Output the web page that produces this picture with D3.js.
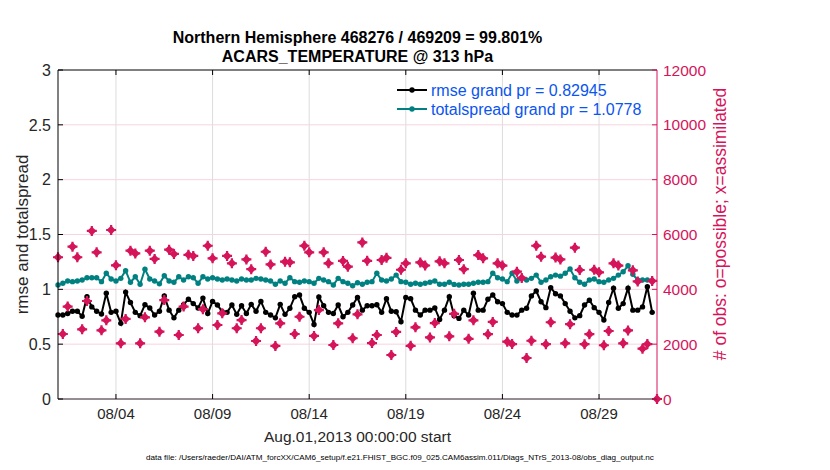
<!DOCTYPE html>
<html><head><meta charset="utf-8">
<script src="https://cdn.jsdelivr.net/npm/d3@7"></script>
<style>body{margin:0;background:#fff;} text{font-family:"Liberation Sans",Arial,Helvetica,sans-serif;}</style>
</head><body><svg id="c" width="830" height="470"></svg>
<script>
// time step index i -> Aug 1 00Z + i*6h
const rmse = [0.766,0.766,0.78,0.80,0.80,0.755,0.933,0.84,0.80,0.775,0.965,0.79,0.80,0.69,0.975,0.88,0.79,0.76,0.86,0.83,
0.766,0.80,0.94,0.81,0.74,0.81,0.86,0.91,0.87,0.83,0.92,0.78,0.89,0.857,0.796,0.79,0.857,0.772,0.85,0.78,
0.863,0.80,0.89,0.79,0.766,0.74,0.863,0.772,0.827,0.933,0.948,0.827,0.79,0.68,0.93,0.85,0.79,0.78,0.857,0.75,
0.79,0.857,0.925,0.81,0.85,0.85,0.86,0.79,0.915,0.80,0.796,0.705,0.925,0.915,0.81,0.766,0.81,0.81,0.83,0.725,
0.81,0.933,0.76,0.735,0.81,0.766,0.964,0.81,0.81,0.91,0.948,0.887,0.87,0.79,0.766,0.765,0.81,0.827,0.94,0.985,
0.887,0.833,1.015,0.96,0.94,0.87,0.80,0.74,0.76,0.857,0.90,0.833,0.79,0.72,0.88,1.01,0.827,0.87,1.01,0.81,
0.81,0.84,1.024,0.79];
const totalspread = [1.04,1.055,1.076,1.07,1.076,1.085,1.106,1.106,1.106,1.07,1.146,1.094,1.076,1.10,1.17,1.064,1.115,1.046,1.183,1.094,
1.076,1.05,1.124,1.076,1.064,1.115,1.085,1.115,1.106,1.055,1.115,1.094,1.106,1.094,1.085,1.094,1.085,1.076,1.094,1.085,
1.085,1.10,1.094,1.085,1.076,1.046,1.076,1.055,1.106,1.07,1.064,1.076,1.07,1.055,1.10,1.085,1.07,1.04,1.10,1.07,
1.055,1.033,1.06,1.046,1.064,1.07,1.146,1.085,1.076,1.094,1.13,1.07,1.064,1.046,1.055,1.046,1.055,1.064,1.076,1.046,
1.046,1.064,1.045,1.04,1.046,1.046,1.055,1.064,1.064,1.07,1.146,1.106,1.094,1.07,1.146,1.076,1.10,1.085,1.10,1.13,
1.064,1.085,1.115,1.13,1.12,1.146,1.185,1.106,1.064,1.046,1.085,1.094,1.07,1.064,1.085,1.10,1.13,1.16,1.215,1.137,
1.085,1.085,1.085,1.076];
const nObs = [5170,2370,3370,5555,5170,2540,3575,6130,5350,2505,2870,6165,4875,2030,2920,5410,5310,2030,2980,5410,
5110,2455,3610,5445,5290,2335,3370,5260,5220,2580,3275,5590,5130,2700,3125,5220,4950,2580,2880,5090,
4735,2115,2580,5370,4910,1935,2760,5010,4985,2370,3000,5590,5350,2300,3245,5350,4950,1970,2760,5035,
4825,2215,3090,5710,5040,2040,2335,5070,5150,1605,2445,4715,4950,1940,2615,4980,4870,2245,2770,5020,
4950,2285,3105,5070,4735,2195,2870,5250,5130,2365,2810,4950,4865,2090,2005,4645,4415,1495,2125,5590,
5190,2000,2800,5160,5090,2030,2730,5520,4705,2000,2365,4715,4620,1960,2480,4950,4865,2030,2500,4695,
4290,1835,2005,4305,0];
const xTickDays = [3,8,13,18,23,28];
const xTickLabels = ["08/04","08/09","08/14","08/19","08/24","08/29"];
const leftTicks = [0,0.5,1,1.5,2,2.5,3];
const leftTickLabels = ["0","0.5","1","1.5","2","2.5","3"];
const rightTicks = [0,2000,4000,6000,8000,10000,12000];
const titleLines = ["Northern Hemisphere 468276 / 469209 = 99.801%","ACARS_TEMPERATURE @ 313 hPa"];
const legendLabels = ["rmse grand pr = 0.82945","totalspread grand pr = 1.0778"];

const svg = d3.select("#c");
const X0=58, X1=657, Y0=70, Y1=399;
const x = d3.scaleLinear().domain([0,31]).range([X0,X1]);
const y = d3.scaleLinear().domain([0,3]).range([Y1,Y0]);
const y2 = d3.scaleLinear().domain([0,12000]).range([Y1,Y0]);
const PINK = "#d6145a", TEAL = "#008080", GRAY="#262626";

// grid
svg.append("g").selectAll("line").data(xTickDays).join("line")
  .attr("x1",d=>x(d)).attr("x2",d=>x(d)).attr("y1",Y0).attr("y2",Y1)
  .attr("stroke","#dcdcdc").attr("stroke-width",1);
svg.append("g").selectAll("line").data(rightTicks.slice(1,-1)).join("line")
  .attr("x1",X0).attr("x2",X1).attr("y1",d=>y2(d)).attr("y2",d=>y2(d))
  .attr("stroke","#f6d3df").attr("stroke-width",1);

// lines
const t = i => i*0.25;
const lineGen = d3.line().x((d,i)=>x(t(i))).y(d=>y(d));
svg.append("path").datum(totalspread).attr("d",lineGen).attr("fill","none").attr("stroke",TEAL).attr("stroke-width",2);
svg.append("g").selectAll("circle").data(totalspread).join("circle")
  .attr("cx",(d,i)=>x(t(i))).attr("cy",d=>y(d)).attr("r",2.7).attr("fill",TEAL);
svg.append("path").datum(rmse).attr("d",lineGen).attr("fill","none").attr("stroke","#000").attr("stroke-width",2);
svg.append("g").selectAll("circle").data(rmse).join("circle")
  .attr("cx",(d,i)=>x(t(i))).attr("cy",d=>y(d)).attr("r",2.7).attr("fill","#000");

// obs markers (o = possible, x = assimilated)
const obsG = svg.append("g");
nObs.forEach((d,i)=>{
  const cx = x(t(i)), cy = y2(d);
  obsG.append("path").attr("d",`M${cx-4.5},${cy}L${cx},${cy-4.5}L${cx+4.5},${cy}L${cx},${cy+4.5}Z`).attr("fill",PINK);
  obsG.append("path").attr("d",`M${cx-5},${cy}H${cx+5}M${cx},${cy-5}V${cy+5}`).attr("stroke",PINK).attr("stroke-width",2.2);
});

// frame & axes
svg.append("line").attr("x1",X0).attr("x2",X1).attr("y1",Y0).attr("y2",Y0).attr("stroke","#000");
svg.append("line").attr("x1",X0).attr("x2",X1).attr("y1",Y1).attr("y2",Y1).attr("stroke","#2b1a22");
svg.append("line").attr("x1",X0).attr("x2",X0).attr("y1",Y0).attr("y2",Y1).attr("stroke","#000");
svg.append("line").attr("x1",X1).attr("x2",X1).attr("y1",Y0).attr("y2",Y1).attr("stroke",PINK);
// x ticks (inward, bottom and top)
svg.append("g").selectAll("path").data(xTickDays).join("path")
  .attr("d",d=>`M${x(d)},${Y1}v-5M${x(d)},${Y0}v5`).attr("stroke","#000");
// left ticks
svg.append("g").selectAll("path").data(leftTicks).join("path")
  .attr("d",d=>`M${X0},${y(d)}h5`).attr("stroke","#000");
svg.append("g").selectAll("text").data(leftTicks).join("text")
  .attr("x",X0-7).attr("y",d=>y(d)).attr("dy","0.36em").attr("text-anchor","end")
  .attr("font-size",16).attr("fill",GRAY).text((d,i)=>leftTickLabels[i]);
// right ticks
svg.append("g").selectAll("path").data(rightTicks).join("path")
  .attr("d",d=>`M${X1},${y2(d)}h-5`).attr("stroke",PINK);
svg.append("g").selectAll("text").data(rightTicks).join("text")
  .attr("x",X1+6).attr("y",d=>y2(d)).attr("dy","0.36em")
  .attr("font-size",15.5).attr("fill",PINK).text(d=>d3.format("d")(d));
// x tick labels
svg.append("g").selectAll("text").data(xTickDays).join("text")
  .attr("x",d=>x(d)).attr("y",419).attr("text-anchor","middle")
  .attr("font-size",15).attr("fill",GRAY).text((d,i)=>xTickLabels[i]);

// axis labels
svg.append("text").attr("transform",`translate(28,${(Y0+Y1)/2}) rotate(-90)`).attr("text-anchor","middle")
  .attr("font-size",17).attr("fill",GRAY).text("rmse and totalspread");
svg.append("text").attr("transform",`translate(726,224) rotate(-90)`).attr("text-anchor","middle")
  .attr("font-size",17.5).attr("fill",PINK).text("# of obs: o=possible; x=assimilated");
svg.append("text").attr("x",(X0+X1)/2).attr("y",442).attr("text-anchor","middle")
  .attr("font-size",15.5).attr("fill",GRAY).text("Aug.01,2013 00:00:00 start");
svg.append("text").attr("x",400).attr("y",460).attr("text-anchor","middle")
  .attr("font-size",8.1).attr("fill","#000")
  .text("data file: /Users/raeder/DAI/ATM_forcXX/CAM6_setup/f.e21.FHIST_BGC.f09_025.CAM6assim.011/Diags_NTrS_2013-08/obs_diag_output.nc");

// title
svg.append("g").selectAll("text").data(titleLines).join("text")
  .attr("x",(X0+X1)/2).attr("y",(d,i)=>43+i*19).attr("text-anchor","middle")
  .attr("font-size",16).attr("font-weight","bold").attr("fill","#000").text(d=>d);

// legend
const legCol = ["#000",TEAL];
const lg = svg.append("g");
legendLabels.forEach((s,i)=>{
  const ly = 90 + i*19;
  lg.append("line").attr("x1",397).attr("x2",427).attr("y1",ly).attr("y2",ly).attr("stroke",legCol[i]).attr("stroke-width",2);
  lg.append("circle").attr("cx",412).attr("cy",ly).attr("r",2.7).attr("fill",legCol[i]);
  lg.append("text").attr("x",431).attr("y",ly).attr("dy","0.36em").attr("font-size",16).attr("fill","#0a55f0").text(s);
});
</script></body></html>
